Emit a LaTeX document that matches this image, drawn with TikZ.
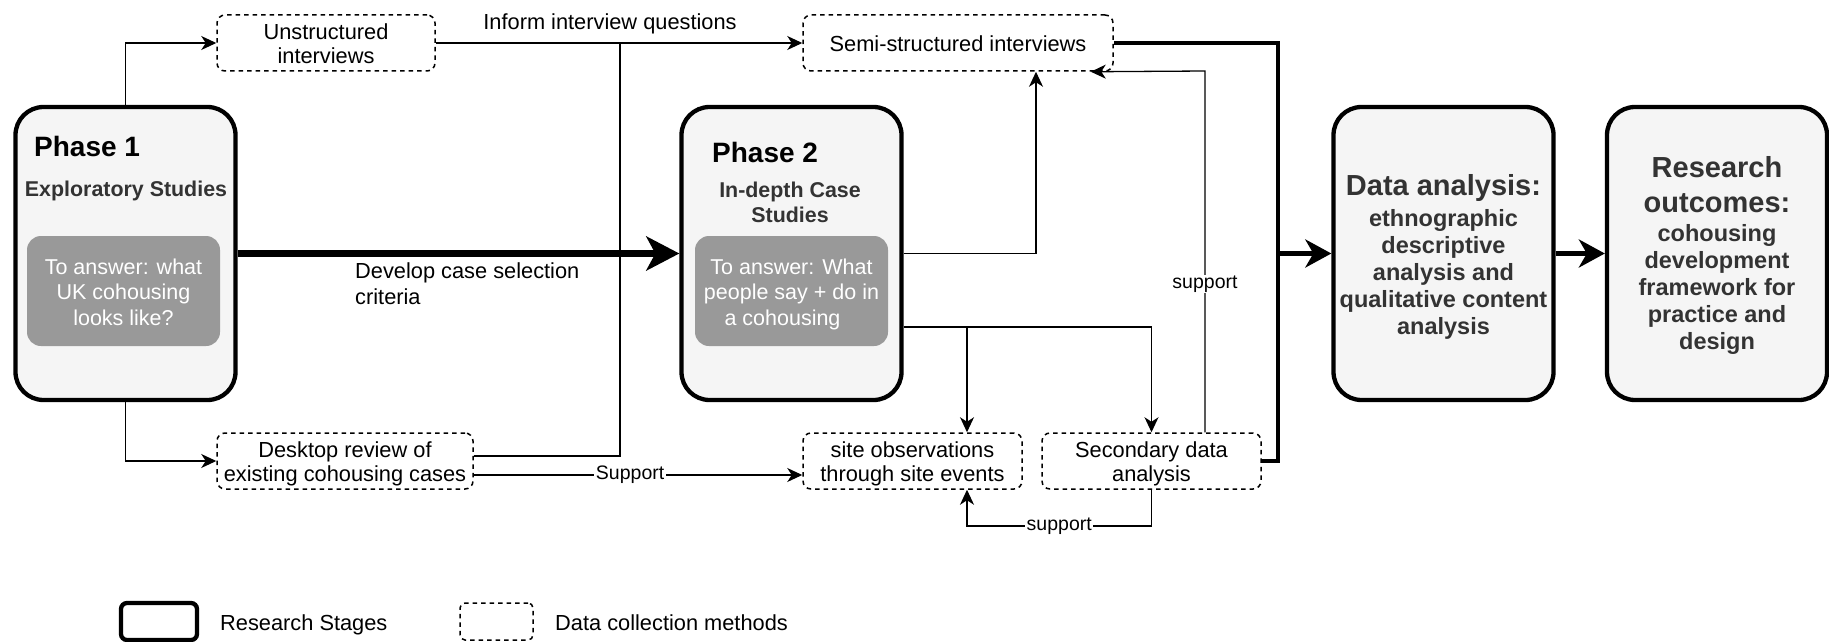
\documentclass[tikz,border=0pt]{standalone}
\usepackage{fontspec}
\setmainfont{Liberation Sans}
\usetikzlibrary{arrows.meta}

\definecolor{stagefill}{HTML}{F5F5F5}
\definecolor{askfill}{HTML}{999999}
\definecolor{darktext}{HTML}{333333}

\newcommand{\fsz}[2]{\fontsize{#1}{#2}\selectfont}
% invisible struts that give every text block the same optical centre
\newcommand{\topstrut}{\rule{0pt}{22pt}}
\newcommand{\botstrut}{\rule[-4.6pt]{0pt}{4.6pt}}
\newcommand{\tx}[1]{\topstrut#1\botstrut}

\begin{document}
\begin{tikzpicture}[x=1pt,y=-1pt,
  every node/.style={inner sep=0pt},
  stage/.style={draw=black, line width=4.3pt, fill=stagefill, rounded corners=28pt,
    minimum width=220pt, minimum height=293pt},
  stagetext/.style={text=darktext, align=center, font=\bfseries\fsz{23.5}{27}},
  phasetitle/.style={anchor=base west, font=\bfseries\fsz{28}{34}},
  phasesub/.style={align=center, text=darktext, font=\bfseries\fsz{21.4}{25}},
  askbox/.style={fill=askfill, rounded corners=14pt, minimum width=193pt, minimum height=110pt,
    text=white, align=center, font=\fsz{21.5}{25.5}},
  method/.style={draw=black, fill=white, line width=1.5pt, dash pattern=on 4.5pt off 4pt,
    rounded corners=8pt, minimum height=56pt, align=center, font=\fsz{21.8}{24.5}},
  plain/.style={font=\fsz{21.8}{26}},
  lbl/.style={fill=white, inner xsep=1.5pt, inner ysep=1pt, font=\fsz{19.5}{22}},
  conn/.style={line width=1.3pt, -{Stealth[length=15pt, width=14pt, inset=4.5pt]}},
  link/.style={line width=1.3pt},
  flow/.style={line width=4.8pt},
  flowtip/.style={line width=4.8pt, -{Stealth[length=26pt, width=28pt, inset=8pt]}},
  mainflow/.style={line width=7pt, -{Stealth[length=33pt, width=34pt, inset=9pt]}},
  legendstage/.style={draw=black, line width=4.3pt, rounded corners=6pt,
    minimum width=76pt, minimum height=37pt},
  legendmethod/.style={draw=black, line width=1.5pt, dash pattern=on 4.5pt off 4pt,
    rounded corners=5pt, minimum width=73pt, minimum height=37pt},
]
\useasboundingbox (0,0) rectangle (1829,642);

% ---------- research stages ----------
\node[stage] (p1) at (125.5,253.5) {};
\node[phasetitle] (p1title) at (34,156) {Phase 1};
\node[phasesub, anchor=base] (p1sub) at (126,196) {Exploratory Studies};
\node[askbox] (p1ask) at (123.5,291) {\tx{To answer: what\\UK cohousing\\looks like?}};

\node[stage] (p2) at (791.5,253.5) {};
\node[phasetitle] (p2title) at (712,162) {Phase 2};
\node[phasesub, anchor=north] (p2sub) at (790,181.7) {In-depth Case\\Studies};
\node[askbox] (p2ask) at (791.5,291) {\tx{To answer: What\\people say + do in\\a cohousing\hspace*{18pt}}};

\node[stage, stagetext] (da) at (1443.5,253.5)
  {{\fsz{29}{35}\rule{0pt}{27pt}Data analysis:}\\[4pt]ethnographic\\descriptive\\analysis and\\qualitative content\\analysis};
\node[stage, stagetext] (ro) at (1717,253.5)
  {{\fsz{29}{35}\rule{0pt}{25pt}Research}\\[8pt]{\fsz{29}{35}outcomes:}\\[2pt]cohousing\\development\\framework for\\practice and\\design};

% ---------- data collection methods ----------
\node[method, minimum width=218pt] (unstr) at (326,43) {\tx{Unstructured\\interviews}};
\node[method, minimum width=310pt] (semi) at (958,43) {\tx{Semi-structured interviews}};
\node[method, minimum width=256pt] (desk) at (345,461) {\tx{Desktop review of\\existing cohousing cases}};
\node[method, minimum width=219pt] (site) at (912.5,461) {\tx{site observations\\through site events}};
\node[method, minimum width=219pt] (sec) at (1151.5,461) {\tx{Secondary data\\analysis}};

% ---------- junction points ----------
\coordinate (inf) at (620,43);
\coordinate (br) at (967,327);
\coordinate (sup) at (1205,71);
\coordinate (lp1) at (1151.5,526);
\coordinate (lp2) at (967,526);
\coordinate (jt) at (1278,253.5);

% ---------- thin connectors ----------
\draw[conn] (p1.north) |- (unstr.west);
\draw[conn] (p1.south) |- (desk.west);
\draw[conn] (unstr.east) -- (semi.west);
\node[plain, anchor=base] (inform) at (610,30) {Inform interview questions};
\draw[link] ([yshift=5pt]desk.east) -| (inf);
\draw[conn] ([yshift=-14pt]desk.east) -- node[lbl, pos=0.476] (suplbl1) {Support} ([yshift=-14pt]site.west);
\draw[conn] (p2.east) -| ([xshift=78pt]semi.south);
\draw[conn] ([yshift=-73.5pt]p2.east) -| (sec.north);
\draw[conn] (br) -- (br |- site.north);
\draw[conn] ([xshift=53.5pt]sec.north) -- node[lbl, pos=0.41] (suplbl2) {support} (sup) -- ([xshift=-23pt]semi.south east);
\draw[conn] (sec.south) -- (lp1) -- node[lbl] (suplbl3) {support} (lp2) -- (lp2 |- site.south);

% ---------- main flow ----------
\draw[mainflow] (p1.east) -- (p2.west);
\node[plain, anchor=north west, align=left] (crit) at (355,263) {Develop case selection\\criteria};
\draw[flow] (semi.east) -| (jt);
\draw[flow] (sec.east) -| (jt);
\draw[flowtip] (jt) -- (da.west);
\draw[flowtip] (da.east) -- (ro.west);

% ---------- legend ----------
\node[legendstage] (lgs) at (159,621.5) {};
\node[plain, anchor=base west] (lgstext) at (220,630) {Research Stages};
\node[legendmethod] (lgm) at (496.5,621.5) {};
\node[plain, anchor=base west] (lgmtext) at (555,630) {Data collection methods};
\end{tikzpicture}
\end{document}
